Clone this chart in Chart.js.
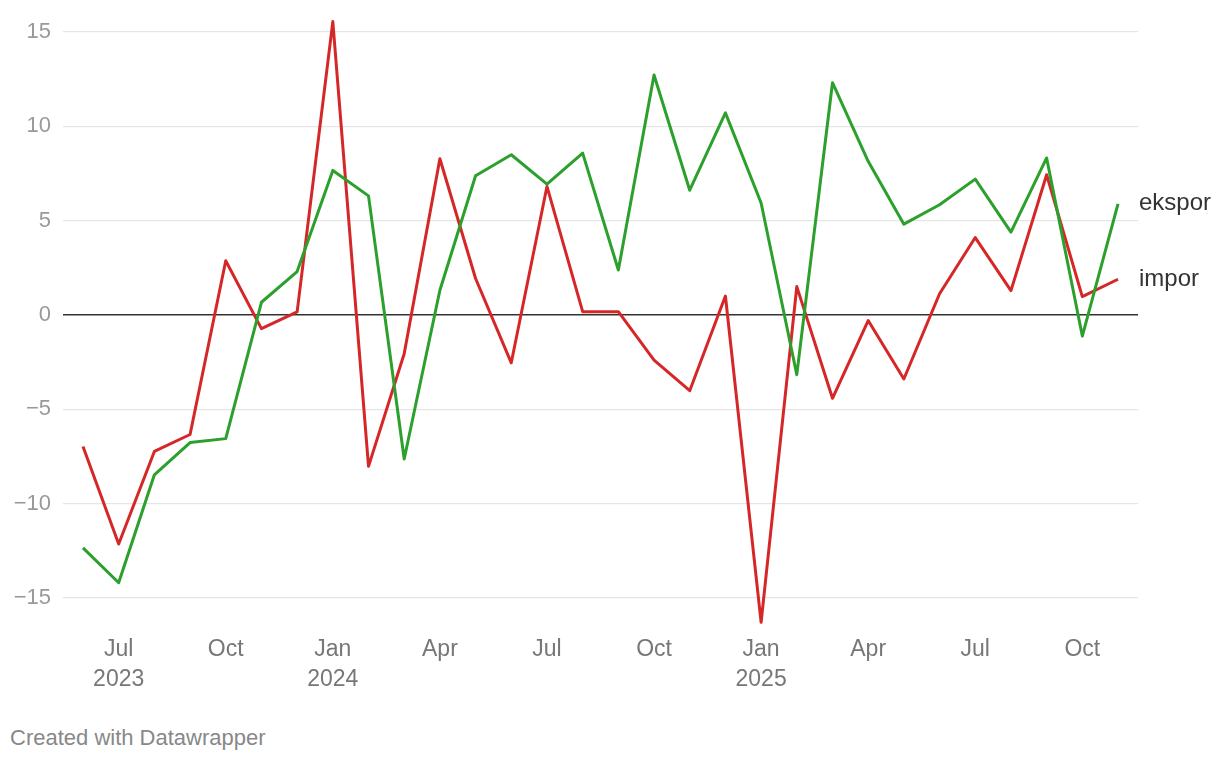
<!DOCTYPE html>
<html>
<head>
<meta charset="utf-8">
<script src="https://cdn.jsdelivr.net/npm/chart.js@4"></script>
<style>
  body { margin: 0; background: #fff; }
  #wrap { position: relative; width: 1220px; height: 760px; }
  #footer {
    position: absolute; left: 10px; top: 725px;
    font-family: 'Liberation Sans', Arial, Helvetica, sans-serif;
    font-size: 22px; color: #888;
  }
</style>
</head>
<body>
<div id="wrap">
  <canvas id="myChart" width="1220" height="700"></canvas>
  <div id="footer">Created with Datawrapper</div>
</div>
<script>
// Data (perubahan bulanan, %)
const bulan = [
  'Jun 2023', 'Jul 2023', 'Aug 2023', 'Sep 2023', 'Oct 2023', 'Nov 2023', 'Dec 2023',
  'Jan 2024', 'Feb 2024', 'Mar 2024', 'Apr 2024', 'May 2024', 'Jun 2024', 'Jul 2024',
  'Aug 2024', 'Sep 2024', 'Oct 2024', 'Nov 2024', 'Dec 2024',
  'Jan 2025', 'Feb 2025', 'Mar 2025', 'Apr 2025', 'May 2025', 'Jun 2025', 'Jul 2025',
  'Aug 2025', 'Sep 2025', 'Oct 2025', 'Nov 2025'
];
const ekspor = [-12.35, -14.2, -8.48, -6.77, -6.56, 0.67, 2.3, 7.66, 6.31, -7.64,
  1.31, 7.38, 8.49, 6.93, 8.58, 2.38, 12.72, 6.61, 10.71, 5.93,
  -3.17, 12.31, 8.14, 4.81, 5.84, 7.2, 4.39, 8.32, -1.12, 5.89];
const impor = [-6.98, -12.15, -7.24, -6.34, 2.87, -0.73, 0.16, 15.55, -8.03, -2.06,
  8.28, 1.93, -2.54, 6.81, 0.17, 0.17, -2.4, -4.02, 1.0, -16.3,
  1.5, -4.42, -0.3, -3.4, 1.12, 4.1, 1.29, 7.43, 0.97, 1.89];

// Tick labels on the x axis (index into bulan)
const tickIdx = [1, 4, 7, 10, 13, 16, 19, 22, 25, 28];
const tickText = [['Jul', '2023'], ['Oct'], ['Jan', '2024'], ['Apr'], ['Jul'], ['Oct'],
  ['Jan', '2025'], ['Apr'], ['Jul'], ['Oct']];
const yTicks = [-15, -10, -5, 0, 5, 10, 15];

const FONT = "'Liberation Sans', Arial, Helvetica, sans-serif";
const HIJAU = '#2ca02c';
const MERAH = '#d62728';

const toXY = arr => arr.map((v, i) => ({ x: i, y: v }));

// label di ujung garis
const endLabels = {
  id: 'endLabels',
  afterDatasetsDraw(chart) {
    const ctx = chart.ctx;
    ctx.save();
    ctx.font = '24px ' + FONT;
    ctx.fillStyle = '#333';
    ctx.textBaseline = 'middle';
    ctx.textAlign = 'left';
    chart.data.datasets.forEach((ds, i) => {
      const pts = chart.getDatasetMeta(i).data;
      const last = pts[pts.length - 1];
      ctx.fillText(ds.label, chart.chartArea.right + 1, last.y);
    });
    ctx.restore();
  }
};

const ctx = document.getElementById('myChart').getContext('2d');
const myChart = new Chart(ctx, {
  type: 'line',
  data: {
    datasets: [
      {
        label: 'ekspor',
        data: toXY(ekspor),
        borderColor: HIJAU,
        borderWidth: 3,
        borderJoinStyle: 'round',
        pointRadius: 0,
        tension: 0
      },
      {
        label: 'impor',
        data: toXY(impor),
        borderColor: MERAH,
        borderWidth: 3,
        borderJoinStyle: 'round',
        pointRadius: 0,
        tension: 0
      }
    ]
  },
  options: {
    responsive: false,
    animation: false,
    layout: { padding: { top: 15, right: 82, left: 0, bottom: 0 } },
    plugins: {
      legend: { display: false },
      tooltip: { enabled: false }
    },
    scales: {
      x: {
        type: 'linear',
        min: -0.56,
        max: bulan.length - 1 + 0.56,
        grid: { display: false, drawTicks: false },
        border: { display: false },
        afterBuildTicks: scale => {
          scale.ticks = tickIdx.map(v => ({ value: v }));
        },
        afterFit: scale => {
          scale.height = 72;
          scale.paddingLeft = 0;
          scale.paddingRight = 0;
        },
        ticks: {
          padding: 7,
          maxRotation: 0,
          autoSkip: false,
          color: '#777',
          font: { family: FONT, size: 23, lineHeight: '30px' },
          callback: v => {
            const j = tickIdx.indexOf(v);
            return j >= 0 ? tickText[j] : '';
          }
        }
      },
      y: {
        min: -16.6,
        max: 15.9,
        afterBuildTicks: scale => {
          scale.ticks = yTicks.map(v => ({ value: v }));
        },
        afterFit: scale => {
          scale.width = 63;
          scale.paddingTop = 0;
          scale.paddingBottom = 0;
        },
        grid: {
          drawTicks: false,
          color: c => (c.tick && c.tick.value === 0 ? '#333' : '#e5e5e5'),
          lineWidth: c => (c.tick && c.tick.value === 0 ? 1.6 : 1.2)
        },
        border: { display: false },
        ticks: {
          padding: 12,
          color: '#999',
          font: { family: FONT, size: 22 },
          callback: v => (v < 0 ? '\u2212' + Math.abs(v) : String(v))
        }
      }
    }
  },
  plugins: [endLabels]
});
</script>
</body>
</html>
